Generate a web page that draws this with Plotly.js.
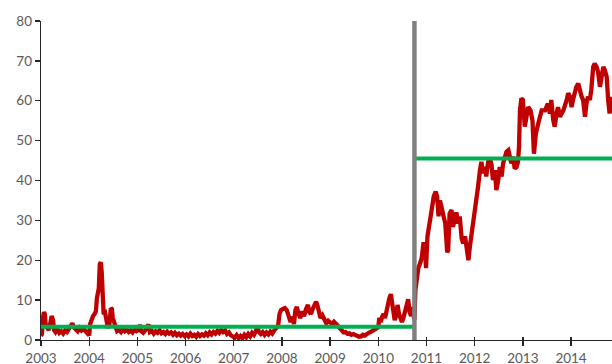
<!DOCTYPE html>
<html>
<head>
<meta charset="utf-8">
<script src="https://cdn.plot.ly/plotly-3.0.1.min.js"></script>
<style>html,body{margin:0;padding:0;background:#fff;}#chart{width:612px;height:364px;}</style>
</head>
<body>
<div id="chart"></div>
<script>
// Time (decimal years) and values
const years = [
2003.00,2003.02,2003.04,2003.06,2003.08,2003.10,2003.13,2003.16,2003.19,2003.22,2003.25,2003.27,2003.30,2003.34,2003.38,2003.42,2003.46,2003.50,2003.54,2003.58,2003.62,2003.65,2003.68,2003.72,2003.76,2003.80,2003.84,2003.88,2003.92,2003.96,
2004.00,2004.02,2004.05,2004.08,2004.11,2004.14,2004.16,2004.18,2004.20,2004.22,2004.24,2004.26,2004.28,2004.30,2004.33,2004.36,2004.39,2004.42,2004.45,2004.47,2004.49,2004.52,2004.55,2004.58,2004.62,2004.66,2004.70,2004.74,2004.78,2004.82,2004.86,2004.90,2004.94,2004.98,
2005.02,2005.05,2005.08,2005.12,2005.16,2005.20,2005.23,2005.26,2005.30,2005.34,2005.38,2005.42,2005.46,2005.50,2005.54,2005.58,2005.62,2005.66,2005.70,2005.74,2005.78,2005.82,2005.86,2005.90,2005.94,2005.98,
2006.02,2006.06,2006.10,2006.14,2006.18,2006.22,2006.26,2006.30,2006.34,2006.38,2006.42,2006.46,2006.50,2006.54,2006.58,2006.62,2006.66,2006.70,2006.74,2006.78,2006.82,2006.86,2006.90,2006.94,2006.98,
2007.02,2007.06,2007.10,2007.14,2007.18,2007.22,2007.26,2007.30,2007.34,2007.38,2007.42,2007.46,2007.49,2007.52,2007.56,2007.60,2007.64,2007.68,2007.72,2007.76,2007.80,2007.84,2007.88,2007.92,2007.95,2007.98,
2008.02,2008.06,2008.10,2008.14,2008.18,2008.22,2008.25,2008.28,2008.31,2008.34,2008.38,2008.42,2008.46,2008.50,2008.54,2008.57,2008.60,2008.64,2008.68,2008.71,2008.74,2008.77,2008.80,2008.84,2008.88,2008.92,2008.96,
2009.00,2009.04,2009.08,2009.12,2009.16,2009.20,2009.24,2009.28,2009.32,2009.36,2009.40,2009.44,2009.48,2009.52,2009.56,2009.60,2009.64,2009.68,2009.72,2009.76,2009.80,2009.84,2009.88,2009.92,2009.96,
2010.00,2010.02,2010.05,2010.08,2010.11,2010.14,2010.17,2010.20,2010.23,2010.26,2010.28,2010.31,2010.34,2010.37,2010.40,2010.43,2010.46,2010.49,2010.52,2010.55,2010.58,2010.62,2010.65,2010.68,2010.70,2010.72,2010.75,2010.77,2010.80,2010.83,2010.86,2010.90,2010.92,2010.94,2010.97,2010.99,
2011.02,2011.06,2011.10,2011.15,2011.19,2011.22,2011.25,2011.28,2011.31,2011.35,2011.39,2011.43,2011.45,2011.48,2011.52,2011.55,2011.59,2011.62,2011.66,2011.69,2011.73,2011.76,2011.80,2011.84,2011.87,2011.90,2011.94,2011.97,
2012.00,2012.04,2012.07,2012.11,2012.14,2012.17,2012.21,2012.24,2012.28,2012.32,2012.35,2012.38,2012.42,2012.45,2012.49,2012.52,2012.56,2012.59,2012.63,2012.66,2012.70,2012.73,2012.76,2012.80,2012.83,2012.87,2012.90,2012.92,2012.94,2012.97,
2013.00,2013.04,2013.08,2013.11,2013.16,2013.20,2013.23,2013.27,2013.32,2013.39,2013.46,2013.49,2013.52,2013.56,2013.59,2013.63,2013.66,2013.70,2013.73,2013.77,2013.84,2013.91,2013.94,2013.98,
2014.01,2014.04,2014.11,2014.15,2014.18,2014.22,2014.25,2014.29,2014.32,2014.35,2014.39,2014.42,2014.46,2014.49,2014.53,2014.56,2014.60,2014.63,2014.67,2014.70,2014.74,2014.77,2014.80,2014.85
];
const values = [
1.0,1.5,5.5,7.0,6.5,3.5,3.0,2.5,4.0,6.0,5.0,2.5,2.0,2.8,1.8,2.2,1.6,2.4,2.0,3.0,3.5,4.2,3.2,2.6,2.2,3.0,2.4,2.8,2.2,1.4,
1.2,4.0,5.5,6.0,6.5,7.2,10.5,12.8,13.0,19.0,19.5,17.0,10.0,6.5,6.8,5.0,3.0,4.0,8.0,7.8,5.5,4.5,3.5,2.2,2.5,2.0,2.8,2.2,2.6,2.0,2.4,1.9,2.6,2.2,
2.5,3.8,2.2,1.8,2.4,3.5,3.9,2.0,2.3,1.6,2.2,1.8,2.4,1.7,2.0,1.5,2.1,1.6,1.9,1.3,1.8,1.2,1.6,1.1,1.5,1.0,
1.4,0.9,1.6,1.0,1.3,0.8,1.5,1.0,1.4,1.1,1.7,1.2,1.9,1.4,2.0,1.6,2.3,1.8,2.5,2.0,2.4,1.5,1.9,1.2,1.0,
0.6,1.2,0.5,1.0,0.4,1.3,0.7,1.5,0.9,1.8,1.3,2.2,3.5,2.0,1.5,2.0,1.3,1.9,1.4,2.1,1.6,2.4,3.0,3.5,6.5,7.5,
7.8,8.0,7.5,5.5,4.5,5.8,4.0,7.5,8.3,6.8,5.5,7.2,6.0,7.8,8.8,7.0,6.5,7.8,8.8,9.6,8.5,7.0,5.5,6.2,5.0,4.2,4.8,
4.5,4.0,4.6,4.2,3.6,3.0,2.3,1.9,2.0,1.6,1.7,1.3,1.5,1.2,1.0,0.8,0.9,1.3,1.1,1.6,1.8,2.0,2.3,2.5,3.0,
3.2,5.5,4.5,5.8,6.5,5.5,7.5,9.0,10.5,11.5,9.5,7.0,5.0,6.0,8.8,6.5,5.0,4.5,5.5,7.0,8.5,10.2,7.0,6.0,8.3,7.0,5.0,12.5,16.5,18.0,19.0,20.5,22.5,24.5,23.4,18.0,
26.0,28.4,32.0,36.0,37.2,36.0,31.0,35.0,33.4,31.0,29.2,22.0,22.5,31.7,32.6,28.4,31.0,32.0,29.2,31.0,25.5,24.2,26.0,23.4,20.0,23.4,26.7,30.0,
32.6,35.0,38.4,42.6,44.7,41.8,43.4,41.0,44.7,45.5,43.9,40.1,42.6,37.6,40.1,43.4,41.0,44.3,46.4,47.2,47.6,46.4,44.3,46.0,43.0,43.4,44.7,48.4,57.6,60.6,
60.2,53.5,57.6,58.4,57.6,55.0,46.7,51.8,54.3,57.6,57.6,58.4,59.3,56.8,60.2,55.2,53.5,56.8,58.4,56.0,57.6,60.2,61.9,61.0,
58.4,60.2,63.5,64.3,62.7,61.0,60.2,56.0,59.3,61.0,60.2,62.7,68.5,69.3,68.5,67.3,63.5,65.2,68.5,67.7,66.0,60.2,56.8,61.0
];
// Split date and period means
const splitYear = 2010.75;
const startYear = 2003;
const endYear = 2014.85;
const meanBefore = 3.3;
const meanAfter = 45.5;
const yMin = 0;
const yMax = 80;
const tickYears = [2003,2004,2005,2006,2007,2008,2009,2010,2011,2012,2013,2014];
const tickLabels = tickYears.map(String);

const traces = [
  {x: [splitYear, splitYear], y: [yMin, yMax], type: 'scatter', mode: 'lines',
   line: {color: '#808080', width: 4.5}, hoverinfo: 'skip', xaxis: 'x2'},
  {x: years, y: values, type: 'scatter', mode: 'lines',
   line: {color: '#C00000', width: 4.3}, hoverinfo: 'skip'},
  {x: [startYear, splitYear], y: [meanBefore, meanBefore], type: 'scatter', mode: 'lines',
   line: {color: '#00B050', width: 4}, hoverinfo: 'skip'},
  {x: [splitYear, endYear], y: [meanAfter, meanAfter], type: 'scatter', mode: 'lines',
   line: {color: '#00B050', width: 4}, hoverinfo: 'skip'}
];

const fontTick = {family: 'Lato, "Open Sans", sans-serif', size: 13.5, color: '#595959'};
const layout = {
  width: 612, height: 364,
  margin: {l: 41, r: 0, t: 21, b: 24},
  paper_bgcolor: '#fff', plot_bgcolor: '#fff',
  showlegend: false,
  xaxis: {range: [startYear, endYear], tickvals: tickYears, ticktext: tickLabels,
          showgrid: false, zeroline: false, showline: true, linecolor: '#262626', linewidth: 1.3,
          ticks: 'outside', ticklen: 5, tickwidth: 1.3, tickcolor: '#262626',
          tickfont: fontTick, fixedrange: true},
  xaxis2: {range: [startYear, endYear], overlaying: 'x', anchor: 'y', side: 'bottom',
          tickvals: tickYears, showticklabels: false, showgrid: false, zeroline: false, showline: false,
          ticks: 'inside', ticklen: 3, tickwidth: 1.3, tickcolor: '#262626', fixedrange: true},
  yaxis: {range: [yMin, yMax], dtick: 10, showgrid: false, zeroline: false,
          showline: true, linecolor: '#262626', linewidth: 1.3,
          ticks: 'outside', ticklen: 5, tickwidth: 1.3, tickcolor: '#262626',
          tickfont: fontTick, fixedrange: true}
};
Plotly.newPlot('chart', traces, layout, {displayModeBar: false, staticPlot: true});
</script>
</body>
</html>
